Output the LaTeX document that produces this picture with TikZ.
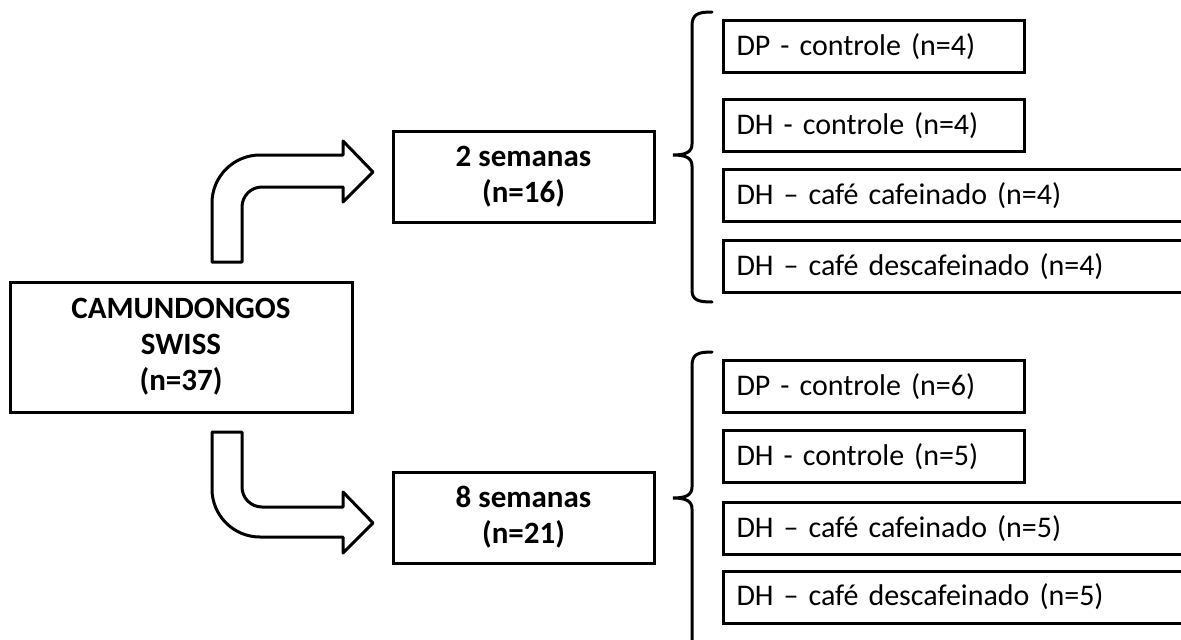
\documentclass[tikz,border=0pt]{standalone}
\usepackage{fontspec}
\setmainfont{Carlito}
\usepackage{tikz}
\usetikzlibrary{calc}
\newcommand{\boxfont}{\fontsize{30}{36}\selectfont\spaceskip=0.16em\relax}
\newcommand{\weekfont}{\fontsize{31}{36}\selectfont\bfseries}
\tikzstyle{bigbox}=[draw, line width=3, rectangle, align=center, font=\weekfont]
\tikzstyle{groupbox}=[draw, line width=3, rectangle, anchor=west, align=left, inner xsep=13pt, minimum height=52pt, font=\boxfont]
\tikzstyle{bendarrow}=[draw, line width=3, line join=round, fill=white]
\tikzstyle{curly}=[draw, line width=3, line cap=round]

\begin{document}
\begin{tikzpicture}[x=1pt, y=-1pt]
        \useasboundingbox (0,0) rectangle (1181,640);
        \clip (0,0) rectangle (1181,640);

        \node[bigbox, minimum width=342pt, minimum height=130pt] (mice) at (181,347) {CAMUNDONGOS\\SWISS\\(n=37)};
        \node[bigbox, minimum width=261pt, minimum height=91pt] (two) at (523.5,176.5) {2 semanas\\(n=16)};
        \node[bigbox, minimum width=261pt, minimum height=91pt] (eight) at (523.5,517.5) {8 semanas\\(n=21)};

        % block arrows
        \path[bendarrow] (212,262) -- (212,203) arc[start angle=180, end angle=270, radius=48]
            -- (343,155) -- (343,141) -- (373,172) -- (343,202) -- (343,187) -- (262,187)
            arc[start angle=270, end angle=180, radius=20] -- (242,262) -- cycle;
        \path[bendarrow] (212,432) -- (212,489) arc[start angle=180, end angle=90, radius=48]
            -- (343,537) -- (343,553) -- (373,523) -- (343,492) -- (343,507) -- (262,507)
            arc[start angle=90, end angle=180, radius=20] -- (242,432) -- cycle;

        % braces
        \path[curly] (712,12) .. controls (698,12) and (692,14) .. (692,26) -- (692,144)
            .. controls (692,152) and (686,155) .. (673,155) .. controls (686,155) and (692,158) .. (692,166)
            -- (692,290) .. controls (692,300) and (698,302) .. (712,302);
        \path[curly] (712,352) .. controls (698,352) and (692,354) .. (692,366) -- (692,487)
            .. controls (692,495) and (686,498) .. (673,498) .. controls (686,498) and (692,501) .. (692,509)
            -- (692,650);

        \node[groupbox, text width=275pt] (dp2) at (722,46.5) {DP - controle (n=4)};
        \node[groupbox, text width=275pt] (dh2) at (722,125.5) {DH - controle (n=4)};
        \node[groupbox, text width=500pt] (cf2) at (722,195.5) {DH – café cafeinado (n=4)};
        \node[groupbox, text width=500pt] (dc2) at (722,266.5) {DH – café descafeinado (n=4)};

        \node[groupbox, text width=275pt] (dp8) at (722,386.5) {DP - controle (n=6)};
        \node[groupbox, text width=275pt] (dh8) at (722,456.5) {DH - controle (n=5)};
        \node[groupbox, text width=500pt] (cf8) at (722,528.5) {DH – café cafeinado (n=5)};
        \node[groupbox, text width=500pt] (dc8) at (722,597) {DH – café descafeinado (n=5)};

\end{tikzpicture}
\end{document}
